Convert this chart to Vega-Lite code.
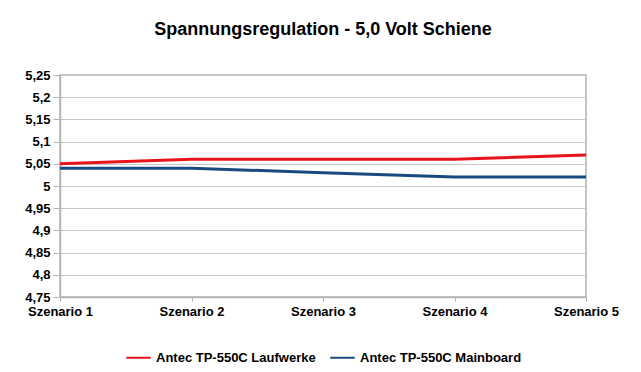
{
  "$schema": "https://vega.github.io/schema/vega-lite/v6.json",
  "autosize": "none",
  "width": 526,
  "height": 222,
  "padding": {"left": 60, "top": 75, "right": 55, "bottom": 75},
  "background": "white",
  "title": {
    "text": "Spannungsregulation - 5,0 Volt Schiene",
    "font": "Liberation Sans",
    "fontSize": 18,
    "fontWeight": "bold",
    "color": "#000000",
    "anchor": "middle",
    "offset": 30
  },
  "data": {
    "values": [
      {"szenario": "Szenario 1", "serie": "Antec TP-550C Laufwerke", "wert": 5.05},
      {"szenario": "Szenario 2", "serie": "Antec TP-550C Laufwerke", "wert": 5.06},
      {"szenario": "Szenario 3", "serie": "Antec TP-550C Laufwerke", "wert": 5.06},
      {"szenario": "Szenario 4", "serie": "Antec TP-550C Laufwerke", "wert": 5.06},
      {"szenario": "Szenario 5", "serie": "Antec TP-550C Laufwerke", "wert": 5.07},
      {"szenario": "Szenario 1", "serie": "Antec TP-550C Mainboard", "wert": 5.04},
      {"szenario": "Szenario 2", "serie": "Antec TP-550C Mainboard", "wert": 5.04},
      {"szenario": "Szenario 3", "serie": "Antec TP-550C Mainboard", "wert": 5.03},
      {"szenario": "Szenario 4", "serie": "Antec TP-550C Mainboard", "wert": 5.02},
      {"szenario": "Szenario 5", "serie": "Antec TP-550C Mainboard", "wert": 5.02}
    ]
  },
  "mark": {"type": "line", "strokeWidth": 3},
  "encoding": {
    "x": {
      "field": "szenario",
      "type": "ordinal",
      "scale": {"type": "point", "padding": 0},
      "axis": {
        "title": null,
        "labelAngle": 0,
        "labelFont": "Liberation Sans",
        "labelFontSize": 13,
        "labelFontWeight": "bold",
        "labelColor": "#000000",
        "labelPadding": 4,
        "domainColor": "#b3b3b3",
        "domainWidth": 1.5,
        "ticks": true,
        "tickSize": 4,
        "tickColor": "#b3b3b3",
        "grid": false
      }
    },
    "y": {
      "field": "wert",
      "type": "quantitative",
      "scale": {"domain": [4.75, 5.25], "zero": false, "nice": false},
      "axis": {
        "title": null,
        "values": [4.75, 4.8, 4.85, 4.9, 4.95, 5.0, 5.05, 5.1, 5.15, 5.2, 5.25],
        "labelExpr": "replace(format(datum.value, '.2~f'), '.', ',')",
        "labelFont": "Liberation Sans",
        "labelFontSize": 13,
        "labelFontWeight": "bold",
        "labelColor": "#000000",
        "labelPadding": 3,
        "domainColor": "#b3b3b3",
        "domainWidth": 1.5,
        "tickSize": 7,
        "tickColor": "#b3b3b3",
        "gridColor": "#c8c8c8",
        "gridWidth": 1.2
      }
    },
    "color": {
      "field": "serie",
      "type": "nominal",
      "scale": {"domain": ["Antec TP-550C Laufwerke", "Antec TP-550C Mainboard"], "range": ["#e8141c", "#184a80"]},
      "legend": {
        "title": null,
        "orient": "bottom",
        "direction": "horizontal",
        "symbolType": "stroke",
        "symbolSize": 600,
        "symbolStrokeWidth": 2,
        "labelFont": "Liberation Sans",
        "labelFontSize": 13,
        "labelFontWeight": "bold",
        "labelColor": "#000000",
        "labelLimit": 400,
        "columnPadding": 10,
        "offset": 26
      }
    }
  },
  "config": {
    "view": {"stroke": "#b3b3b3", "strokeWidth": 1.5},
    "legend": {"layout": {"bottom": {"anchor": "middle"}}}
  }
}
